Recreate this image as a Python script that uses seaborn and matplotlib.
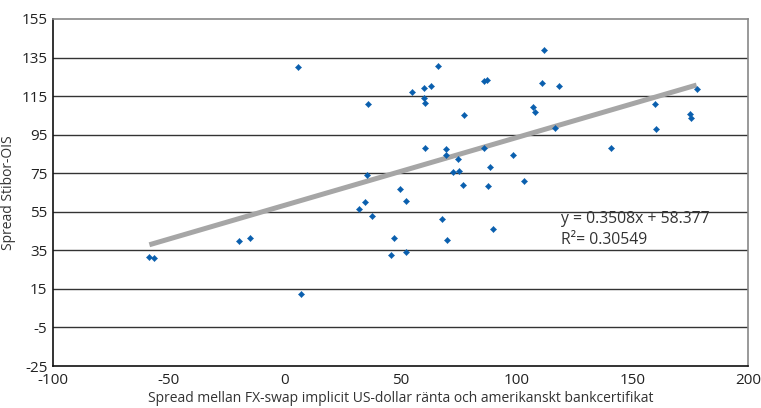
import matplotlib
matplotlib.use("Agg")
import matplotlib.pyplot as plt
import seaborn as sns
import numpy as np
import pandas as pd

fx_spread = [-58.4, -56.3, -19.7, -15.0, 5.6, 7.2, 32.2, 34.8, 35.5, 35.8, 37.8, 45.7, 47.0,
             49.6, 52.2, 52.2, 55.1, 60.0, 60.3, 60.4, 60.4, 63.3, 66.2, 67.9, 69.6, 69.7,
             70.0, 72.5, 74.7, 75.1, 76.8, 77.3, 85.9, 87.5, 85.9, 87.6, 88.5, 89.8, 98.5,
             103.1, 107.2, 108.0, 110.9, 111.9, 116.8, 118.3, 141.0, 159.7, 160.4, 175.1,
             175.4, 177.8]
stibor_ois = [31.4, 30.9, 40.0, 41.3, 130.1, 12.4, 56.3, 59.9, 73.9, 111.1, 53.0, 32.4, 41.2,
              67.0, 60.4, 34.1, 117.0, 119.1, 114.0, 111.4, 87.9, 120.1, 130.5, 51.4, 87.4,
              84.5, 40.4, 75.5, 82.5, 76.0, 68.9, 105.1, 123.0, 123.4, 87.9, 68.4, 78.1,
              45.9, 84.5, 71.0, 109.5, 106.9, 122.0, 139.1, 98.6, 120.1, 87.9, 111.1, 97.9,
              105.9, 103.8, 118.5]
trend_slope = 0.3508
trend_intercept = 58.377
y_ticks = [-25, -5, 15, 35, 55, 75, 95, 115, 135, 155]
x_ticks = [-100, -50, 0, 50, 100, 150, 200]
equation_text = "y = 0.3508x + 58.377"
r2_text = "R\u00b2= 0.30549"
x_label = "Spread mellan FX-swap implicit US-dollar ränta och amerikanskt bankcertifikat"
y_label = "Spread Stibor-OIS"

sns.set_style("white")
plt.rcParams['font.family'] = ['Open Sans', 'DejaVu Sans']

df = pd.DataFrame({"x": fx_spread, "y": stibor_ois})

fig = plt.figure(figsize=(7.61, 4.08), dpi=100)
ax = fig.add_axes([53/761, 1-366/408, (748-53)/761, (366-19)/408])

# gridlines
for yt in y_ticks[1:-1]:
    ax.axhline(yt, color="#333333", lw=1.0, zorder=1)

# trend line
xl = np.array([min(fx_spread), max(fx_spread)])
sns.lineplot(x=xl, y=trend_slope*xl + trend_intercept, ax=ax, color="#a6a6a6",
             lw=3.6, zorder=2, solid_capstyle="butt")

sns.scatterplot(data=df, x="x", y="y", ax=ax, marker="D", s=10, color="#0a5fae",
                edgecolor="#0a5fae", linewidth=0.3, zorder=3)

ax.set_xlim(-100, 200)
ax.set_ylim(-25, 155)
ax.set_xticks(x_ticks)
ax.set_yticks(y_ticks)
ax.set_xticklabels([str(v) for v in x_ticks])
ax.set_yticklabels([str(v) for v in y_ticks])
ax.tick_params(axis="x", direction="in", length=15, width=1.2, color="#333333",
               labelsize=11, labelcolor="#222222", pad=5)
ax.tick_params(axis="y", length=0, labelsize=11, labelcolor="#222222", pad=4)

ax.set_xlabel(x_label, fontsize=10, color="#333333", labelpad=2)
ax.set_ylabel(y_label, fontsize=10, color="#333333", labelpad=4)

for s in ["left", "bottom"]:
    ax.spines[s].set_color("#111111")
    ax.spines[s].set_linewidth(1.2)
for s in ["top", "right"]:
    ax.spines[s].set_color("#888888")
    ax.spines[s].set_linewidth(1.2)

ax.text(119.3, 51.3, equation_text, fontsize=11.3, color="#333333", va="center", ha="left")
ax.text(119.3, 40.4, r2_text, fontsize=11.3, color="#333333", va="center", ha="left")

fig.savefig("out.png", dpi=100)
